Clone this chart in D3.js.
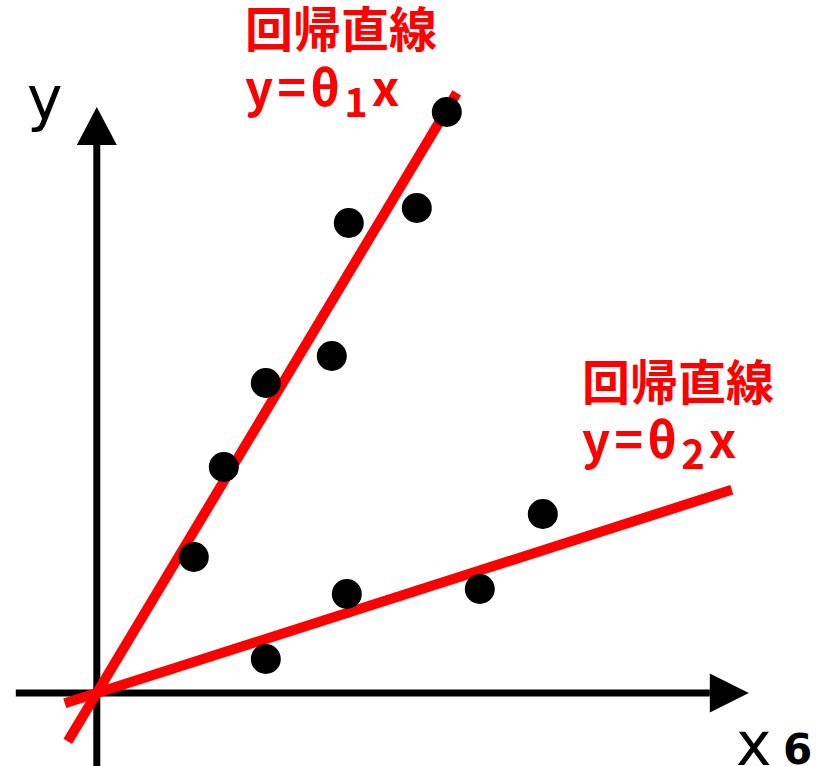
<!DOCTYPE html>
<html>
<head>
<meta charset="utf-8">
<script src="https://cdn.jsdelivr.net/npm/d3@7"></script>
<style>
  html, body { margin: 0; padding: 0; background: #fff; }
  svg { display: block; }
</style>
</head>
<body>
<div id="chart"></div>
<script>
// ---- data (in chart units; origin at the axes' crossing) ----
const groupA_x = [35.0, 32.0, 25.2, 23.5, 16.9, 12.7, 9.7];
const groupA_y = [58.1, 48.5, 47.0, 33.7, 31.0, 22.6, 13.6];
const groupB_x = [16.9, 25.0, 38.3, 44.6];
const groupB_y = [3.4, 9.9, 10.4, 17.9];
const thetas = [1.667, 0.32];               // slopes of y = θx
const lineXRanges = [[-2.9, 36.0], [-3.2, 63.5]];
const xAxisExtent = [-8.1, 61.3, 65.2];      // start, arrow base, arrow tip
const yAxisExtent = [-7.3, 54.8, 58.6];
const labelTitle = "回帰直線";
const subscripts = ["1", "2"];

const W = 825, H = 766;
const svg = d3.select("#chart").append("svg").attr("width", W).attr("height", H);

const x = d3.scaleLinear().domain([0, 65]).range([96.8, 746.8]);
const y = d3.scaleLinear().domain([0, 60]).range([693, 93]);

// axes
const axisG = svg.append("g");
axisG.append("line")
  .attr("x1", x(xAxisExtent[0])).attr("x2", x(xAxisExtent[1]))
  .attr("y1", y(0)).attr("y2", y(0))
  .attr("stroke", "#000").attr("stroke-width", 7);
axisG.append("path")
  .attr("d", `M${x(xAxisExtent[1])},${y(0) - 19.5}L${x(xAxisExtent[2])},${y(0)}L${x(xAxisExtent[1])},${y(0) + 19.5}Z`)
  .attr("fill", "#000");
axisG.append("line")
  .attr("x1", x(0)).attr("x2", x(0))
  .attr("y1", y(yAxisExtent[0])).attr("y2", y(yAxisExtent[1]))
  .attr("stroke", "#000").attr("stroke-width", 7);
axisG.append("path")
  .attr("d", `M${x(0) - 20},${y(yAxisExtent[1])}L${x(0)},${y(yAxisExtent[2])}L${x(0) + 20},${y(yAxisExtent[1])}Z`)
  .attr("fill", "#000");

// regression lines
const lineGen = d3.line().x(d => x(d[0])).y(d => y(d[1]));
thetas.forEach((t, i) => {
  const pts = lineXRanges[i].map(v => [v, t * v]);
  svg.append("path").attr("d", lineGen(pts))
    .attr("stroke", "#ff0000").attr("stroke-width", 10).attr("fill", "none");
});

// points
const pointsA = groupA_x.map((v, i) => [v, groupA_y[i]]);
const pointsB = groupB_x.map((v, i) => [v, groupB_y[i]]);
svg.append("g").selectAll("circle").data(pointsA.concat(pointsB)).join("circle")
  .attr("cx", d => x(d[0])).attr("cy", d => y(d[1])).attr("r", 15).attr("fill", "#000");

// axis labels
svg.append("text").attr("x", 27).attr("y", 119)
  .attr("font-family", "DejaVu Sans").attr("font-size", 60).attr("fill", "#000").text("y");
svg.append("text").attr("x", 736).attr("y", 765)
  .attr("font-family", "DejaVu Sans").attr("font-size", 60).attr("fill", "#000").text("x");
svg.append("text").attr("x", 783).attr("y", 764)
  .attr("font-family", "DejaVu Sans").attr("font-weight", "bold").attr("font-size", 42).attr("fill", "#000").text("6");

// red labels
const labelPos = [[245, 47, 106], [582, 400, 458]];
labelPos.forEach((p, i) => {
  svg.append("text").attr("x", p[0]).attr("y", p[1])
    .attr("font-family", "Noto Sans CJK JP").attr("font-weight", "bold").attr("font-size", 48)
    .attr("fill", "#ff0000").text(labelTitle);
  const t = svg.append("text").attr("x", p[0]).attr("y", p[2])
    .attr("font-family", "Noto Sans CJK JP").attr("font-weight", "bold").attr("font-size", 49)
    .attr("letter-spacing", 4)
    .attr("fill", "#ff0000");
  t.append("tspan").text("y=θ");
  t.append("tspan").attr("font-size", 40).attr("dy", 11).text(subscripts[i]);
  t.append("tspan").attr("dy", -11).text("x");
});
</script>
</body>
</html>
